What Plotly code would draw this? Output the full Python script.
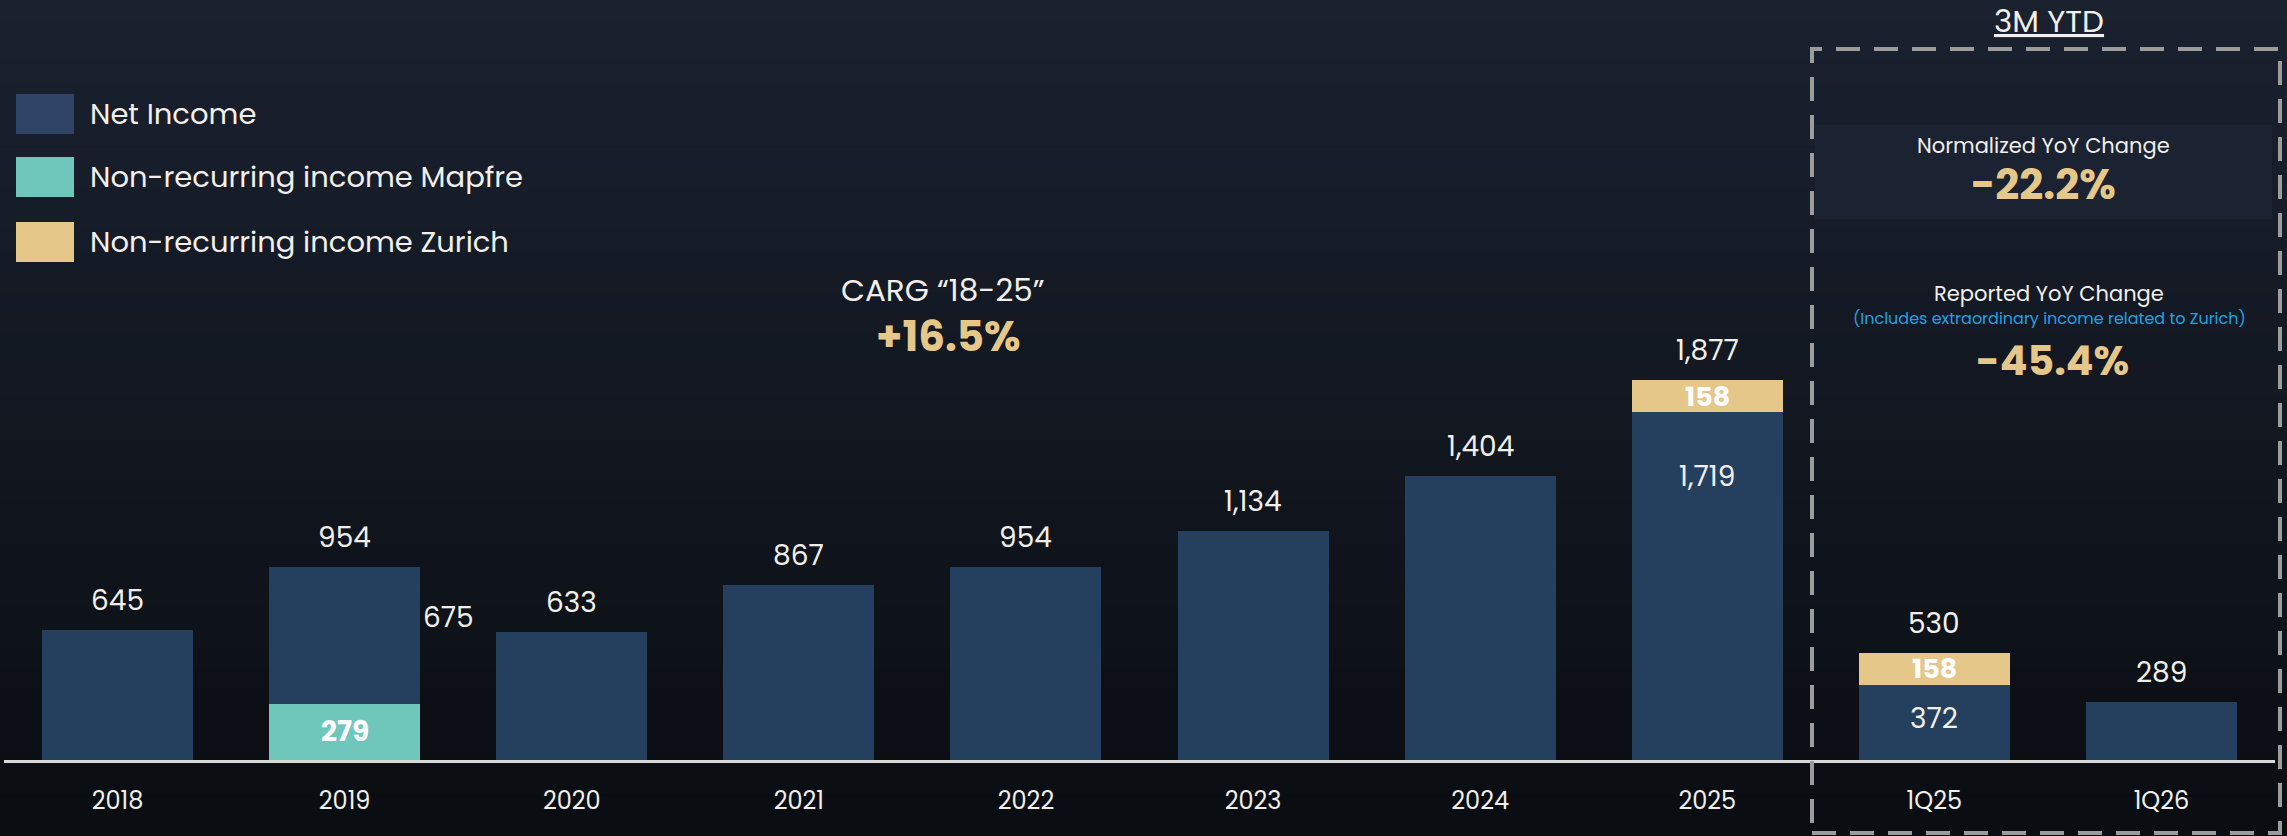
import plotly.graph_objects as go

# ---------------- data ----------------
categories = ["2018", "2019", "2020", "2021", "2022", "2023", "2024", "2025", "1Q25", "1Q26"]
net_income = [645, 675, 633, 867, 954, 1134, 1404, 1719, 372, 289]
mapfre_nonrec = [None, 279, None, None, None, None, None, None, None, None]
zurich_nonrec = [None, None, None, None, None, None, None, 158, 158, None]
totals = [645, 954, 633, 867, 954, 1134, 1404, 1877, 530, 289]

legend_labels = ["Net Income", "Non-recurring income Mapfre", "Non-recurring income Zurich"]
cagr_title = "CARG “18-25”"
cagr_value = "+16.5%"
ytd_title = "3M YTD"
norm_title = "Normalized YoY Change"
norm_value = "-22.2%"
rep_title = "Reported YoY Change"
rep_note = "(Includes extraordinary income related to Zurich)"
rep_value = "-45.4%"

# ---------------- style ----------------
W, H = 2287, 836
NAVY = "#253f5f"
NAVY_LEG = "#2f4466"
GREEN = "#6fc7bb"
GOLD = "#e5c789"
TXT = "#f2efea"
BLUE = "#1ea3e0"
FONT = "Poppins, 'Open Sans', Lato, sans-serif"
YMAX = 3757
PLOT_H = 760


def px_x(p):
    return p / W


def px_y(p):
    return 1 - p / H


idx = list(range(len(categories)))

fig = go.Figure()
fig.add_trace(go.Bar(x=idx, y=mapfre_nonrec, marker_color=GREEN, marker_line_width=0,
                     name=legend_labels[1], showlegend=False))
fig.add_trace(go.Bar(x=idx, y=net_income, marker_color=NAVY, marker_line_width=0,
                     name=legend_labels[0], showlegend=False))
fig.add_trace(go.Bar(x=idx, y=zurich_nonrec, marker_color=GOLD, marker_line_width=0,
                     name=legend_labels[2], showlegend=False))

shapes = []
# background gradient
top = (0x1a, 0x21, 0x2f)
bot = (0x0a, 0x0d, 0x12)
N = 40
for i in range(N):
    t = i / (N - 1)
    c = tuple(int(round(top[k] + (bot[k] - top[k]) * t)) for k in range(3))
    shapes.append(dict(type="rect", xref="paper", yref="paper", x0=0, x1=1,
                       y0=1 - (i + 1) / N - 0.002, y1=1 - i / N,
                       fillcolor="rgb(%d,%d,%d)" % c, line_width=0, layer="below"))

# inner panel for normalized change
shapes.append(dict(type="rect", xref="paper", yref="paper", x0=px_x(1815), x1=px_x(2272),
                   y0=px_y(219), y1=px_y(125), fillcolor="#1b2232", line_width=0, layer="below"))
# dashed 3M YTD box
shapes.append(dict(type="rect", xref="paper", yref="paper", x0=px_x(1812), x1=px_x(2280),
                   y0=px_y(833), y1=px_y(49), fillcolor="rgba(0,0,0,0)",
                   line=dict(color="#9c9c9c", width=4, dash="24px,14px"), layer="above"))

# legend swatches
leg_colors = [NAVY_LEG, GREEN, GOLD]
leg_y = [114, 177, 242]
for c, yy in zip(leg_colors, leg_y):
    shapes.append(dict(type="rect", xref="paper", yref="paper", x0=px_x(16), x1=px_x(74),
                       y0=px_y(yy + 20), y1=px_y(yy - 20), fillcolor=c, line_width=0))

annotations = []


def txt(x, y, text, size, color=TXT, xanchor="center"):
    annotations.append(dict(xref="paper", yref="paper", x=px_x(x), y=px_y(y), text=text,
                            showarrow=False, xanchor=xanchor, yanchor="middle", borderpad=0,
                            font=dict(family=FONT, size=size, color=color)))


for lab, yy in zip(legend_labels, leg_y):
    txt(89, yy, lab, 29, xanchor="left")

# totals above bars
for i, tot in zip(idx, totals):
    annotations.append(dict(x=i, y=tot, text=f"{tot:,}", showarrow=False, xanchor="center",
                            yanchor="bottom", yshift=8, font=dict(family=FONT, size=28, color=TXT)))

# inside labels
for i, ni, mp, zu in zip(idx, net_income, mapfre_nonrec, zurich_nonrec):
    if zu is not None:
        seg_px = ni / YMAX * PLOT_H
        annotations.append(dict(x=i, y=ni, text=f"{ni:,}", showarrow=False, xanchor="center",
                                yanchor="top", yshift=-43 if seg_px > 200 else -12,
                                font=dict(family=FONT, size=28, color=TXT)))
        annotations.append(dict(x=i, y=ni + zu / 2, text=f"<b>{zu:,}</b>", showarrow=False,
                                xanchor="center", yanchor="middle",
                                font=dict(family=FONT, size=27, color="#ffffff")))
    if mp is not None:
        annotations.append(dict(x=i, y=mp / 2, text=f"<b>{mp:,}</b>", showarrow=False,
                                xanchor="center", yanchor="middle",
                                font=dict(family=FONT, size=28, color="#ffffff")))
        annotations.append(dict(x=i, y=mp + ni / 2, text=f"{ni:,}", showarrow=False,
                                yanchor="middle", xanchor="left", xshift=76, yshift=18,
                                font=dict(family=FONT, size=28, color=TXT)))

# CAGR
txt(942, 290, cagr_title, 31)
txt(948, 336, f"<b>{cagr_value}</b>", 42, GOLD)

# 3M YTD panel
txt(2049, 21, f"<u>{ytd_title}</u>", 31)
txt(2043, 146, norm_title, 21)
txt(2043, 184, f"<b>{norm_value}</b>", 42, GOLD)
txt(2049, 293, rep_title, 21)
txt(2049, 319, rep_note, 16, BLUE)
txt(2052, 360, f"<b>{rep_value}</b>", 41, GOLD)

fig.update_layout(
    width=W, height=H,
    margin=dict(l=0, r=0, t=0, b=0, pad=0),
    paper_bgcolor="#0b0e13",
    plot_bgcolor="rgba(0,0,0,0)",
    barmode="stack",
    bargap=0.335,
    showlegend=False,
    shapes=shapes,
    annotations=annotations,
    xaxis=dict(domain=[4 / W, 2275 / W], type="linear", range=[-0.5, len(categories) - 0.5],
               tickmode="array", tickvals=idx, ticktext=categories,
               showgrid=False, zeroline=False,
               showline=True, linecolor="#d9d9d9", linewidth=3, ticks="",
               tickfont=dict(family=FONT, size=24, color=TXT), ticklabelstandoff=17,
               automargin=False, fixedrange=True),
    yaxis=dict(domain=[(H - PLOT_H) / H, 1], range=[0, YMAX], visible=False, fixedrange=True),
)

fig.write_html("out.html")
